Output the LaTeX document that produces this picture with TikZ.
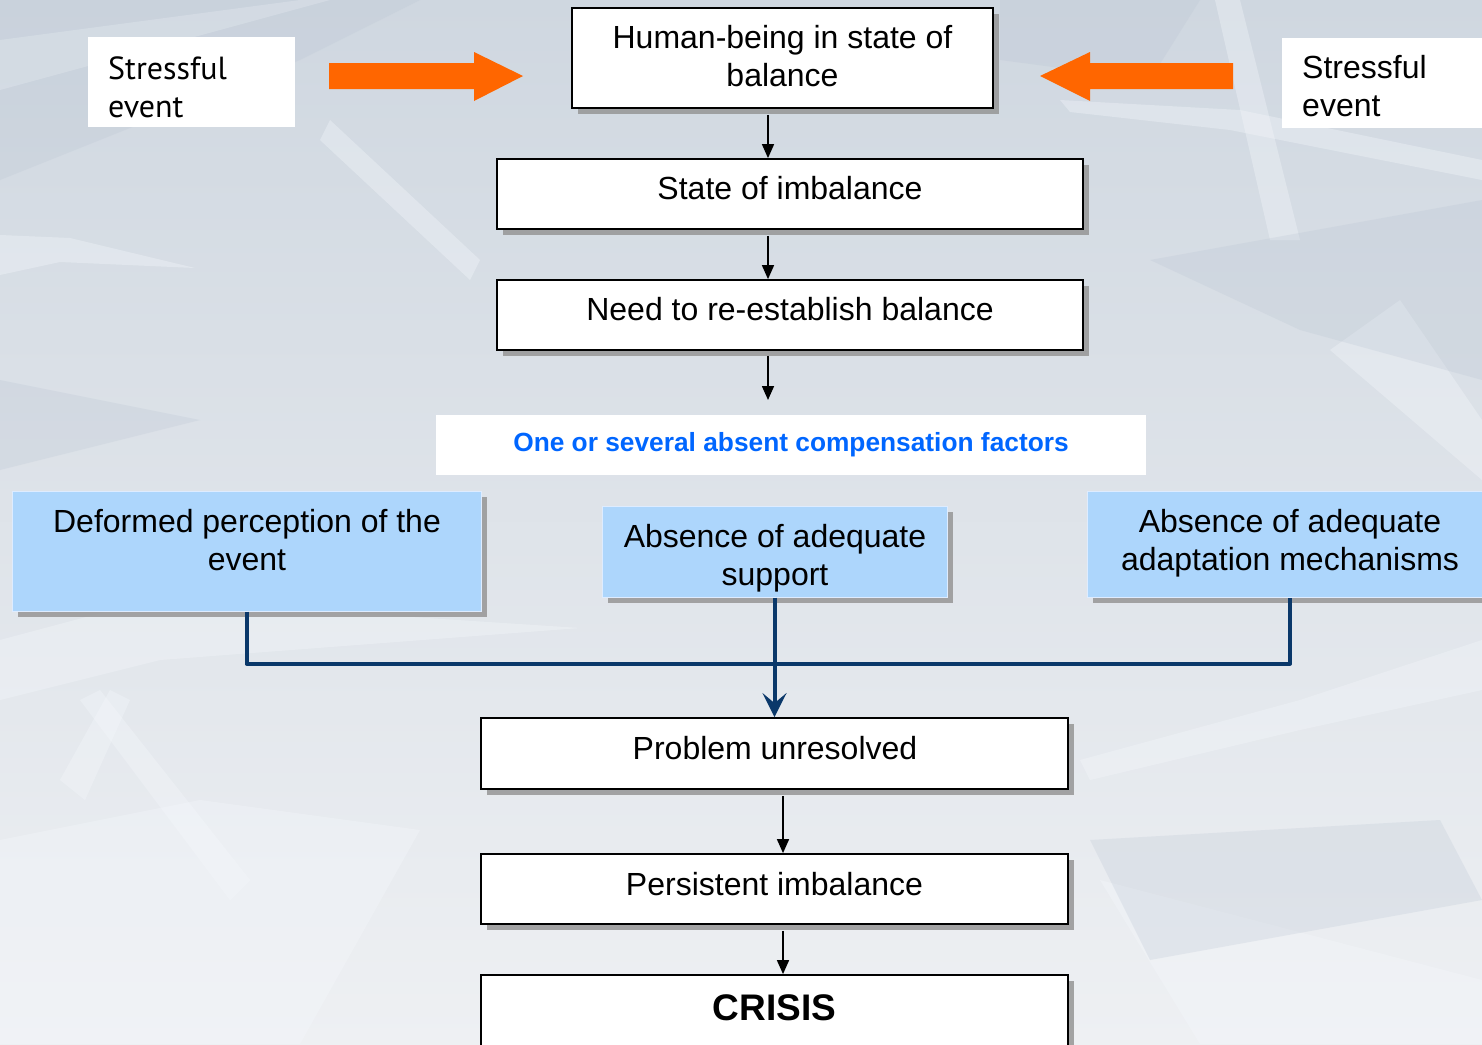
\documentclass[tikz,border=0pt]{standalone}
\usepackage{fontspec}
\setmainfont{Liberation Sans}
\newfontfamily\ptsans{PT Sans}
\usetikzlibrary{arrows.meta,shadows}

\definecolor{bgtop}{RGB}{207,215,224}
\definecolor{bgbot}{RGB}{238,240,243}
\definecolor{icelight}{RGB}{245,248,252}
\definecolor{icedark}{RGB}{185,196,210}
\definecolor{orangearr}{RGB}{255,102,0}
\definecolor{factorfill}{RGB}{173,214,252}
\definecolor{factoredge}{RGB}{222,236,255}
\definecolor{linkblue}{RGB}{10,56,106}
\definecolor{headblue}{RGB}{0,102,255}
\definecolor{boxshadow}{RGB}{150,150,150}

\tikzset{
  flowbox/.style={draw=black, line width=1.8pt, fill=white, inner sep=0pt,
    drop shadow={shadow xshift=6pt, shadow yshift=-6pt, fill=boxshadow, opacity=0.85}},
  factorbox/.style={draw=factoredge, line width=1pt, fill=factorfill, inner sep=0pt,
    drop shadow={shadow xshift=6pt, shadow yshift=-6pt, fill=boxshadow, opacity=0.85}},
  plainbox/.style={fill=white, inner sep=0pt},
  txt/.style={align=center, inner sep=0pt, font=\fontsize{32}{38}\selectfont},
  stresstxt/.style={align=left, inner sep=0pt, anchor=west, font=\ptsans\fontsize{32}{38}\selectfont},
  flowarrow/.style={line width=1.6pt, -{Triangle[length=14pt,width=12pt]}},
  linkline/.style={draw=linkblue, line width=4pt, line join=round},
  bigarrow/.style={fill=orangearr, draw=none},
}

\begin{document}
\begin{tikzpicture}[x=1pt,y=-1pt]
\useasboundingbox (0,0) rectangle (1482,1044);

% icy background
\shade[top color=bgtop, bottom color=bgbot] (0,0) rectangle (1482,1044);
\begin{scope}[fill opacity=0.35]
  \fill[icelight] (0,235) -- (70,238) -- (195,268) -- (60,262) -- (0,275) -- cycle;
  \fill[icelight] (0,40) -- (300,0) -- (330,0) -- (0,90) -- cycle;
  \fill[icelight] (330,120) -- (480,260) -- (470,280) -- (320,140) -- cycle;
  \fill[icelight] (1060,100) -- (1240,110) -- (1482,160) -- (1482,180) -- (1230,130) -- (1070,112) -- cycle;
  \fill[icelight] (1215,0) -- (1240,0) -- (1300,240) -- (1270,240) -- cycle;
  \fill[icelight] (0,640) -- (150,600) -- (580,628) -- (160,660) -- (0,700) -- cycle;
  \fill[icelight] (100,690) -- (250,880) -- (230,900) -- (80,700) -- cycle;
  \fill[icelight] (60,780) -- (110,690) -- (130,700) -- (85,800) -- cycle;
  \fill[icelight] (1080,760) -- (1300,700) -- (1482,640) -- (1482,690) -- (1300,730) -- (1090,780) -- cycle;
  \fill[icelight] (1100,880) -- (1482,980) -- (1482,1044) -- (1200,1044) -- cycle;
  \fill[icelight] (0,840) -- (200,800) -- (420,830) -- (300,1044) -- (0,1044) -- cycle;
  \fill[icelight] (1330,350) -- (1400,300) -- (1482,420) -- (1482,480) -- cycle;
\end{scope}
\begin{scope}[fill opacity=0.25]
  \fill[icedark] (0,0) -- (420,0) -- (300,60) -- (0,180) -- cycle;
  \fill[icedark] (1000,0) -- (1200,0) -- (1150,80) -- (1000,60) -- cycle;
  \fill[icedark] (0,380) -- (200,420) -- (0,470) -- cycle;
  \fill[icedark] (1150,260) -- (1482,200) -- (1482,380) -- (1300,330) -- cycle;
  \fill[icedark] (1090,840) -- (1440,820) -- (1482,900) -- (1150,960) -- cycle;
\end{scope}

% stressful events and incoming arrows
\node[plainbox, minimum width=207pt, minimum height=90pt] (sleftbox) at (191.5,82) {};
\node[stresstxt] (slefttxt) at (108,87) {Stressful\\event};
\node[plainbox, minimum width=210pt, minimum height=90pt] (srightbox) at (1387,83) {};
\node[stresstxt, font=\fontsize{32}{38}\selectfont] (srighttxt) at (1302,86.5) {Stressful\\event};

\fill[bigarrow] (329,63) -- (474,63) -- (474,52) -- (523,76) -- (474,101) -- (474,89) -- (329,89) -- cycle;
\fill[bigarrow] (1233,63) -- (1090,63) -- (1090,52) -- (1040,76) -- (1090,101) -- (1090,89) -- (1233,89) -- cycle;

% main chain, upper part
\node[flowbox, minimum width=421pt, minimum height=100pt] (balance) at (782.5,58) {};
\node[txt] (balancetxt) at (782.5,56.5) {Human-being in state of\\balance};
\node[flowbox, minimum width=586pt, minimum height=70pt] (imbal) at (790,194) {};
\node[txt] (imbaltxt) at (790,188) {State of imbalance};
\node[flowbox, minimum width=586pt, minimum height=70pt] (need) at (790,315) {};
\node[txt] (needtxt) at (790,309) {Need to re-establish balance};

\coordinate (col) at (768,0);
\coordinate (needend) at (768,400);
\draw[flowarrow, shorten <=6pt] (balance.south -| col) -- (imbal.north -| col);
\draw[flowarrow, shorten <=6pt] (imbal.south -| col) -- (need.north -| col);
\draw[flowarrow, shorten <=5pt] (need.south -| col) -- (needend);

% missing compensation factors
\node[plainbox, minimum width=710pt, minimum height=60pt] (factorhead) at (791,445) {};
\node[txt, text=headblue, font=\bfseries\fontsize{26.3}{31}\selectfont] (factorheadtxt) at (791,444.5)
  {One or several absent compensation factors};

\node[factorbox, minimum width=469pt, minimum height=120pt] (perception) at (246.5,551) {};
\node[txt] (perceptiontxt) at (247,540) {Deformed perception of the\\event};
\node[factorbox, minimum width=345pt, minimum height=91pt] (support) at (774.5,551.5) {};
\node[txt] (supporttxt) at (775,558) {Absence of adequate\\support};
\node[factorbox, minimum width=406pt, minimum height=106pt] (adapt) at (1290,544) {};
\node[txt] (adapttxt) at (1290,543) {Absence of adequate\\adaptation mechanisms};

% main chain, lower part
\node[flowbox, minimum width=587pt, minimum height=71pt] (unres) at (774.5,753.5) {};
\node[txt] (unrestxt) at (775,748) {Problem unresolved};
\node[flowbox, minimum width=587pt, minimum height=70pt] (persist) at (774.5,889) {};
\node[txt] (persisttxt) at (774.5,884) {Persistent imbalance};
\node[flowbox, minimum width=587pt, minimum height=110pt] (crisis) at (774.5,1030) {};
\node[txt, font=\bfseries\fontsize{37}{44}\selectfont] (crisistxt) at (774.5,1008) {CRISIS};

% factor links
\draw[linkline] (perception.south) -- ++(0,52) -| (adapt.south);
\draw[linkline, -{Stealth[length=24pt,width=24pt,inset=10pt]}] (support.south) -- (unres.north);

\coordinate (col2) at (783,0);
\draw[flowarrow, shorten <=6pt] (unres.south -| col2) -- (persist.north -| col2);
\draw[flowarrow, shorten <=6pt] (persist.south -| col2) -- (crisis.north -| col2);
\end{tikzpicture}
\end{document}
